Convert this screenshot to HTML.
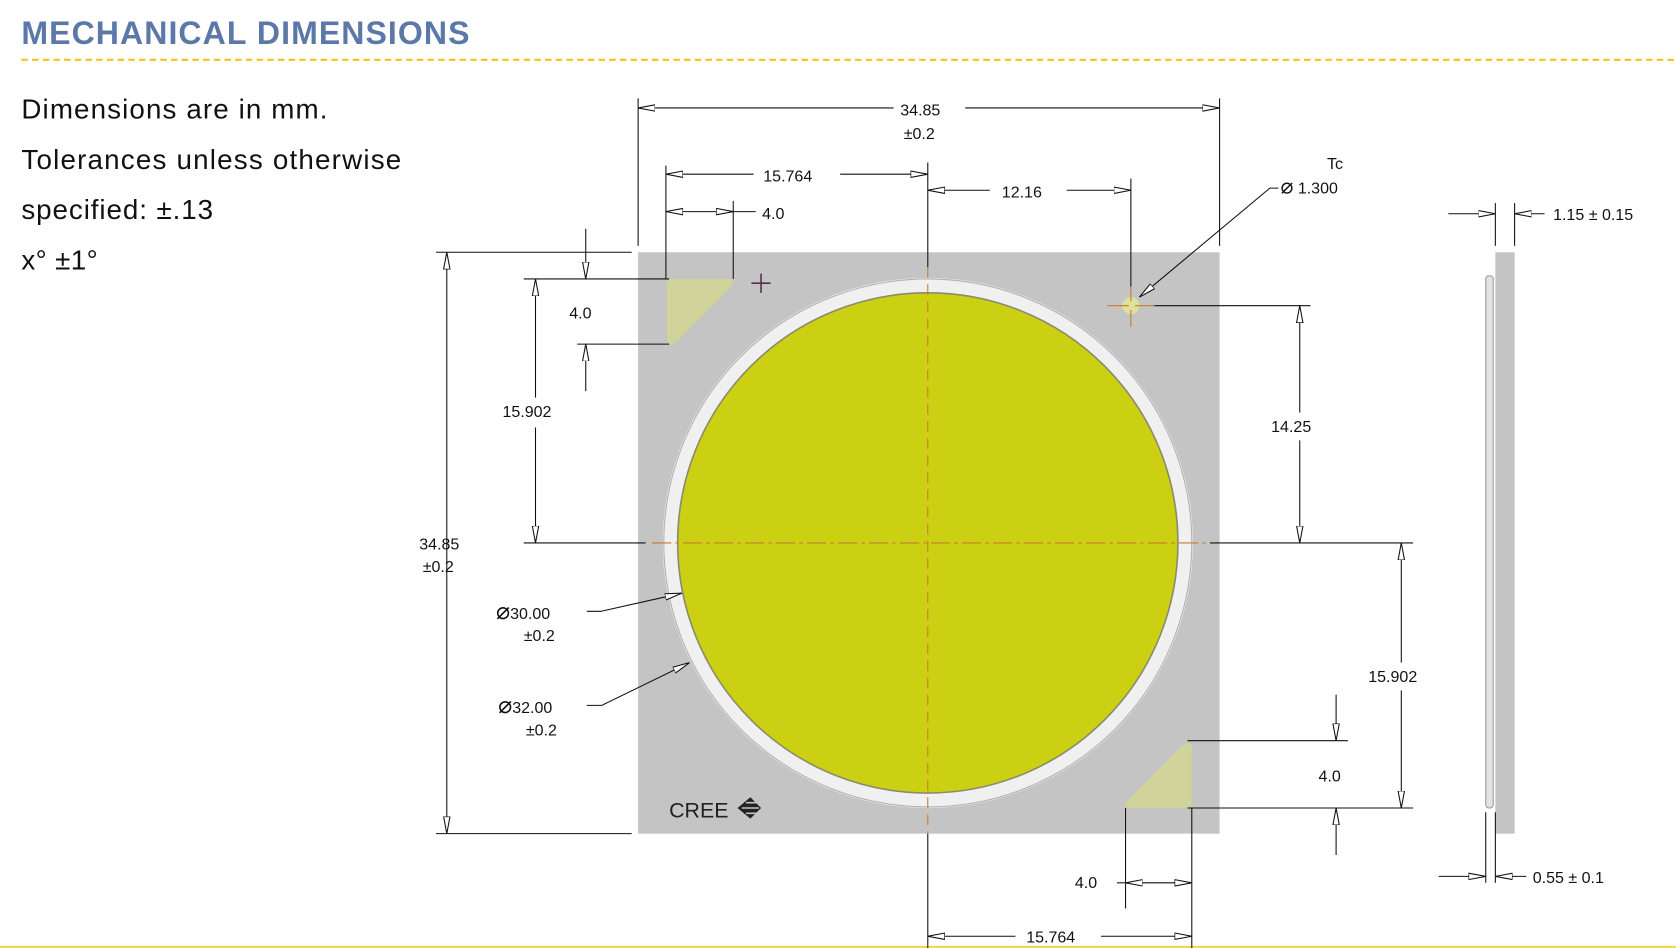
<!DOCTYPE html>
<html><head><meta charset="utf-8">
<style>
html,body{margin:0;padding:0;background:#fff;width:1676px;height:948px;overflow:hidden}
svg{display:block}
.t{font-family:"Liberation Sans",sans-serif;font-size:15px;fill:#111}
.m{font-family:"Liberation Sans",sans-serif;font-size:26px;fill:#111;letter-spacing:0.6px}
</style></head><body>
<svg width="1676" height="948" viewBox="0 0 1568 887" preserveAspectRatio="none" xmlns="http://www.w3.org/2000/svg">
<defs>
<marker id="a" viewBox="0 0 16 8" refX="16" refY="4" markerWidth="16" markerHeight="8" markerUnits="userSpaceOnUse" orient="auto-start-reverse">
<path d="M0,1 L16,4 L0,7 Z" fill="#fff" stroke="#111" stroke-width="1"/>
</marker>
</defs>
<text x="20" y="41" font-family="Liberation Sans, sans-serif" font-weight="bold" font-size="30" fill="#5b78a8" letter-spacing="1">MECHANICAL DIMENSIONS</text>
<line x1="20" y1="56" x2="1568" y2="56" stroke="#f4c21a" stroke-width="2" stroke-dasharray="6,4"/>
<line x1="0" y1="886" x2="1568" y2="886" stroke="#f4d84a" stroke-width="2"/>
<text class="m" x="20" y="111" textLength="287">Dimensions are in mm.</text>
<text class="m" x="20" y="158" textLength="356">Tolerances unless otherwise</text>
<text class="m" x="20" y="205" textLength="180">specified: ±.13</text>
<text class="m" x="20" y="252" textLength="72">x° ±1°</text>

<!-- package -->
<rect x="597" y="236" width="544" height="544" fill="#c4c4c4"/>
<circle cx="868" cy="508" r="241" fill="#f7f7f7" stroke="#f0f0f0" stroke-width="14"/>
<circle cx="868" cy="508" r="247" fill="none" stroke="#b0b0b0" stroke-width="1"/>
<circle cx="868" cy="508" r="234" fill="#ccd013" stroke="#8a8a70" stroke-width="1.5"/>
<path d="M628,261 L682,261 Q688,262 684,268 L633,320 Q624,326 624,316 L624,266 Q624,261 628,261Z" fill="#d0d39a"/>
<path d="M1111,756 L1057,756 Q1051,755 1055,749 L1106,697 Q1115,691 1115,701 L1115,751 Q1115,756 1111,756Z" fill="#d0d39a"/>
<line x1="868" y1="250" x2="868" y2="780" stroke="#c87a30" stroke-width="1" stroke-dasharray="10,6"/>
<line x1="610" y1="508" x2="1128" y2="508" stroke="#c87a30" stroke-width="1" stroke-dasharray="18,4,3,4"/>
<path d="M703,265 h18 M712,256 v18" stroke="#5a3050" stroke-width="1.5"/>
<circle cx="1058" cy="286" r="8" fill="#dfe09a"/>
<path d="M1036,286 h20 M1062,286 h18 M1058,268 v14 M1058,290 v16" stroke="#c87a30" stroke-width="1"/>
<text x="626" y="765" font-family="Liberation Sans, sans-serif" font-size="20" fill="#222">CREE</text>
<path d="M702,746 L712,756 L702,766 L690,756Z" fill="#222"/>
<path d="M694,756 h16 M698,751 h10 M698,761 h10" stroke="#c4c4c4" stroke-width="1.5"/>

<!-- side view -->
<rect x="1399" y="236" width="18" height="544" fill="#c4c4c4"/>
<rect x="1390" y="258" width="7" height="498" rx="3" fill="#e2e2e2" stroke="#9a9a9a" stroke-width="1"/>

<g stroke="#111" stroke-width="1" fill="none">
<line x1="597" y1="92" x2="597" y2="230"/><line x1="1141" y1="92" x2="1141" y2="230"/>
<line x1="836" y1="101" x2="597" y2="101" marker-end="url(#a)"/>
<line x1="903" y1="101" x2="1141" y2="101" marker-end="url(#a)"/>
<line x1="623" y1="155" x2="623" y2="261"/><line x1="868" y1="152" x2="868" y2="250"/>
<line x1="705" y1="163" x2="623" y2="163" marker-end="url(#a)"/>
<line x1="786" y1="163" x2="868" y2="163" marker-end="url(#a)"/>
<line x1="686" y1="188" x2="686" y2="261"/>
<line x1="623" y1="198" x2="686" y2="198" marker-start="url(#a)" marker-end="url(#a)"/>
<line x1="686" y1="198" x2="707" y2="198"/>
<line x1="1058" y1="167" x2="1058" y2="268"/>
<line x1="926" y1="178" x2="868" y2="178" marker-end="url(#a)"/>
<line x1="998" y1="178" x2="1058" y2="178" marker-end="url(#a)"/>
<polyline points="1196,176 1188,176 1066,278" marker-end="url(#a)"/>
<line x1="408" y1="236" x2="591" y2="236"/><line x1="408" y1="780" x2="591" y2="780"/>
<line x1="418" y1="236" x2="418" y2="780" marker-start="url(#a)" marker-end="url(#a)"/>
<line x1="490" y1="261" x2="626" y2="261"/><line x1="540" y1="322" x2="626" y2="322"/>
<line x1="548" y1="214" x2="548" y2="261" marker-end="url(#a)"/>
<line x1="548" y1="366" x2="548" y2="322" marker-end="url(#a)"/>
<line x1="490" y1="508" x2="604" y2="508"/>
<line x1="501" y1="372" x2="501" y2="261" marker-end="url(#a)"/>
<line x1="501" y1="400" x2="501" y2="508" marker-end="url(#a)"/>
<line x1="1080" y1="286" x2="1226" y2="286"/><line x1="1132" y1="508" x2="1322" y2="508"/>
<line x1="1216" y1="386" x2="1216" y2="286" marker-end="url(#a)"/>
<line x1="1216" y1="412" x2="1216" y2="508" marker-end="url(#a)"/>
<line x1="1111" y1="756" x2="1322" y2="756"/>
<line x1="1311" y1="620" x2="1311" y2="508" marker-end="url(#a)"/>
<line x1="1311" y1="646" x2="1311" y2="756" marker-end="url(#a)"/>
<line x1="1111" y1="693" x2="1261" y2="693"/>
<line x1="1250" y1="650" x2="1250" y2="693" marker-end="url(#a)"/>
<line x1="1250" y1="800" x2="1250" y2="756" marker-end="url(#a)"/>
<line x1="1053" y1="756" x2="1053" y2="850"/><line x1="1115" y1="756" x2="1115" y2="887"/>
<line x1="868" y1="780" x2="868" y2="887"/>
<line x1="1053" y1="826" x2="1115" y2="826" marker-start="url(#a)" marker-end="url(#a)"/>
<line x1="1045" y1="826" x2="1053" y2="826"/>
<line x1="950" y1="876" x2="868" y2="876" marker-end="url(#a)"/>
<line x1="1030" y1="876" x2="1115" y2="876" marker-end="url(#a)"/>
<polyline points="549,572 562,572 638,555" marker-end="url(#a)"/>
<polyline points="549,660 563,660 645,620" marker-end="url(#a)"/>
<line x1="1399" y1="190" x2="1399" y2="230"/><line x1="1417" y1="190" x2="1417" y2="230"/>
<line x1="1355" y1="200" x2="1399" y2="200" marker-end="url(#a)"/>
<line x1="1445" y1="200" x2="1417" y2="200" marker-end="url(#a)"/>
<line x1="1390" y1="760" x2="1390" y2="826"/><line x1="1399" y1="760" x2="1399" y2="826"/>
<line x1="1346" y1="820" x2="1390" y2="820" marker-end="url(#a)"/>
<line x1="1428" y1="820" x2="1399" y2="820" marker-end="url(#a)"/>
</g>

<g text-anchor="middle">
<text class="t" x="861" y="108">34.85</text>
<text class="t" x="860" y="130">±0.2</text>
<text class="t" x="737" y="170">15.764</text>
<text class="t" x="956" y="185">12.16</text>
<text class="t" x="411" y="514">34.85</text>
<text class="t" x="410" y="535">±0.2</text>
<text class="t" x="543" y="298">4.0</text>
<text class="t" x="493" y="390">15.902</text>
<text class="t" x="1208" y="404">14.25</text>
<text class="t" x="1303" y="638">15.902</text>
<text class="t" x="1244" y="731">4.0</text>
<text class="t" x="1016" y="831">4.0</text>
<text class="t" x="983" y="882">15.764</text>
<text class="t" x="1249" y="158">Tc</text>
</g>
<text class="t" x="713" y="205">4.0</text>
<text class="t" x="1198" y="181"><tspan font-size="20">⌀</tspan> 1.300</text>
<text class="t" x="464" y="579"><tspan font-size="22">⌀</tspan>30.00</text>
<text class="t" x="490" y="600">±0.2</text>
<text class="t" x="466" y="667"><tspan font-size="22">⌀</tspan>32.00</text>
<text class="t" x="492" y="688">±0.2</text>
<text class="t" x="1453" y="206">1.15 ±  0.15</text>
<text class="t" x="1434" y="826">0.55 ±  0.1</text>
</svg>
</body></html>
